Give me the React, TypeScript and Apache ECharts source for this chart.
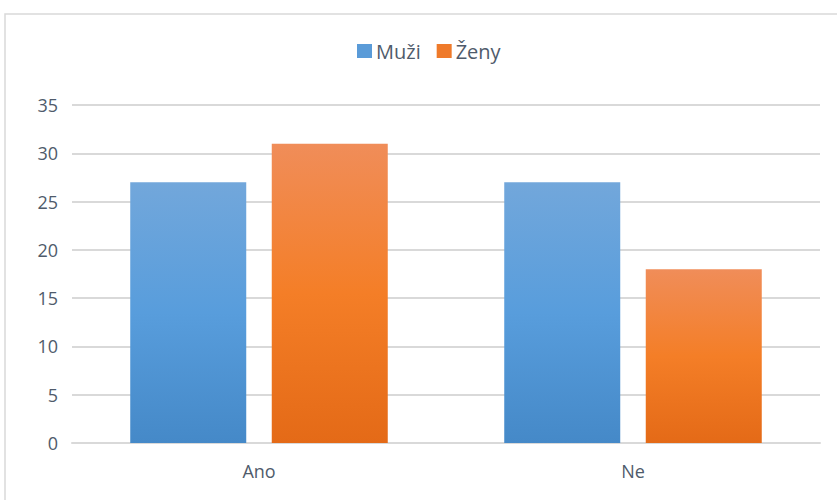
import React, { useEffect, useRef } from "react";
import * as echarts from "echarts";

const categories = ["Ano", "Ne"];
const muzi = [27, 27];
const zeny = [31, 18];
const seriesNames = ["Muži", "Ženy"];

const FONT = "'Open Sans', 'Noto Sans', sans-serif";
const TEXT = "#4f5b6b";

export default function App() {
  const ref = useRef<HTMLDivElement>(null);
  useEffect(() => {
    document.body.style.margin = "0";
    const chart = echarts.init(ref.current!, null, { renderer: "svg" });
    const blueGrad = new echarts.graphic.LinearGradient(0, 0, 0, 1, [
      { offset: 0, color: "#72a7db" },
      { offset: 0.5, color: "#589ddc" },
      { offset: 1, color: "#4589c8" },
    ]);
    const orangeGrad = new echarts.graphic.LinearGradient(0, 0, 0, 1, [
      { offset: 0, color: "#f08d59" },
      { offset: 0.5, color: "#f47e27" },
      { offset: 1, color: "#e46a17" },
    ]);
    chart.setOption({
      animation: false,
      backgroundColor: "#ffffff",
      textStyle: { fontFamily: FONT },
      graphic: [
        {
          type: "rect",
          shape: { x: 5, y: 14, width: 900, height: 600 },
          style: { fill: "none", stroke: "#d9d9d9", lineWidth: 1.5 },
          silent: true,
        },
      ],
      legend: {
        left: 352,
        top: 36,
        itemWidth: 15,
        itemHeight: 14,
        itemGap: 16,
        textStyle: { fontFamily: FONT, fontSize: 20, color: TEXT, padding: [0, 0, 0, -1] },
        data: [
          { name: seriesNames[0], icon: "rect", itemStyle: { color: "#5a9bd8" } },
          { name: seriesNames[1], icon: "rect", itemStyle: { color: "#ef7a2a" } },
        ],
      },
      grid: { left: 72, right: 17, top: 105, bottom: 57, containLabel: false },
      xAxis: {
        type: "category",
        data: categories,
        axisLine: { lineStyle: { color: "#d9d9d9", width: 2 } },
        axisTick: { show: false },
        axisLabel: { fontFamily: FONT, fontSize: 18, color: TEXT, margin: 19 },
      },
      yAxis: {
        type: "value",
        min: 0,
        max: 35,
        interval: 5,
        axisLine: { show: false },
        axisTick: { show: false },
        axisLabel: { fontFamily: FONT, fontSize: 18, color: TEXT, margin: 14 },
        splitLine: { lineStyle: { color: "#d9d9d9", width: 2 } },
      },
      series: [
        {
          name: seriesNames[0],
          type: "bar",
          data: muzi,
          barWidth: 116,
          barGap: "22%",
          itemStyle: { color: blueGrad },
        },
        {
          name: seriesNames[1],
          type: "bar",
          data: zeny,
          barWidth: 116,
          barGap: "22%",
          itemStyle: { color: orangeGrad },
        },
      ],
    });
    return () => chart.dispose();
  }, []);
  return <div ref={ref} style={{ width: 837, height: 500 }} />;
}
